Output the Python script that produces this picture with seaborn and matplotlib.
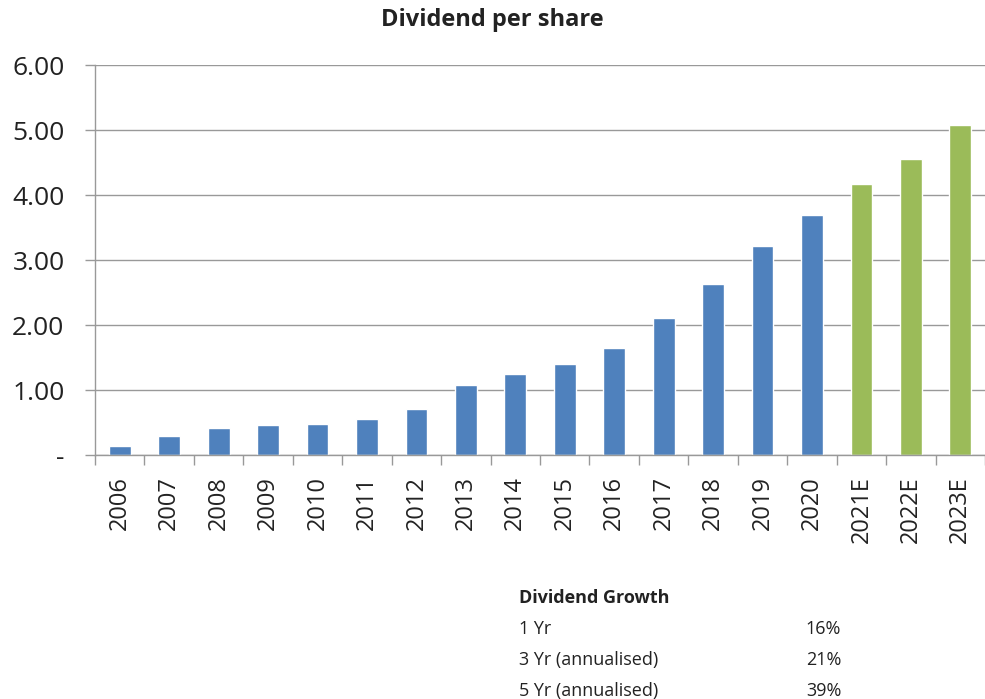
import matplotlib
matplotlib.use("Agg")
import matplotlib.pyplot as plt
import seaborn as sns
import pandas as pd
from matplotlib.ticker import FuncFormatter, FixedLocator

years = ["2006", "2007", "2008", "2009", "2010", "2011", "2012", "2013", "2014",
         "2015", "2016", "2017", "2018", "2019", "2020", "2021E", "2022E", "2023E"]
dps = [0.14, 0.30, 0.41, 0.46, 0.48, 0.55, 0.71, 1.08, 1.24,
       1.40, 1.65, 2.11, 2.63, 3.21, 3.70, 4.17, 4.55, 5.08]
kind = ["Actual"] * 15 + ["Estimate"] * 3

growth_labels = ["1 Yr", "3 Yr (annualised)", "5 Yr (annualised)"]
growth_values = ["16%", "21%", "39%"]

df = pd.DataFrame({"year": years, "dps": dps, "kind": kind})

sns.set_style("white")
plt.rcParams["font.family"] = ["Open Sans", "DejaVu Sans"]

fig = plt.figure(figsize=(9.85, 6.99), dpi=100)
ax = fig.add_axes([0.0965, 0.349, 0.9035, 0.558])

sns.barplot(data=df, x="year", y="dps", hue="kind",
            palette={"Actual": "#4F81BD", "Estimate": "#9BBB59"},
            dodge=False, width=0.44, legend=False, ax=ax, saturation=1)

ax.set_ylim(0, 6)
ax.set_xlim(-0.5, len(years) - 0.5)
ax.set_yticks([0, 1, 2, 3, 4, 5, 6])
ax.yaxis.set_major_formatter(FuncFormatter(lambda v, p: "-" if v == 0 else f"{v:.2f}"))
ax.grid(axis="y", color="#999999", linewidth=1.0)
ax.set_axisbelow(True)
for s in ["top", "right"]:
    ax.spines[s].set_visible(False)
for s in ["left", "bottom"]:
    ax.spines[s].set_color("#999999")
    ax.spines[s].set_linewidth(1.0)

ax.set_xlabel("")
ax.set_ylabel("")
ax.tick_params(axis="y", left=True, labelsize=19, length=7, color="#999999", width=1.0,
               pad=15, labelcolor="#222222")
ax.tick_params(axis="x", which="major", bottom=True, labelsize=17, rotation=90,
               length=0, pad=15, labelcolor="#222222")
# category boundary ticks (Excel style)
ax.xaxis.set_minor_locator(FixedLocator([i + 0.5 for i in range(-1, len(years))]))
ax.tick_params(axis="x", which="minor", bottom=True, length=7, color="#999999", width=1.0)

fig.text(0.5, 0.972, "Dividend per share", ha="center", va="center",
         fontsize=17, fontweight="bold", color="#222222")

fig.text(0.527, 0.145, "Dividend Growth", ha="left", va="center",
         fontsize=13, fontweight="bold", color="#222222")
for i, (lab, val) in enumerate(zip(growth_labels, growth_values)):
    y = 0.100 - i * 0.0445
    fig.text(0.527, y, lab, ha="left", va="center", fontsize=13, color="#222222")
    fig.text(0.854, y, val, ha="right", va="center", fontsize=13, color="#222222")

fig.savefig("out.png", dpi=100)
